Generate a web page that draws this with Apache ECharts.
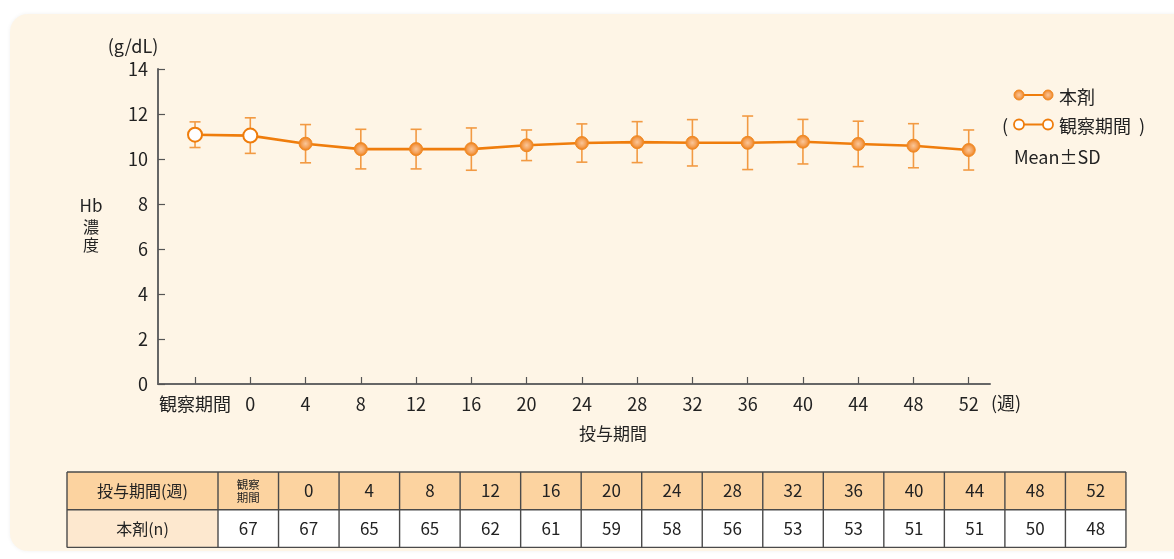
<!DOCTYPE html>
<html lang="ja">
<head>
<meta charset="utf-8">
<title>Hb濃度の推移</title>
<script src="https://cdn.jsdelivr.net/npm/echarts@6/dist/echarts.min.js"></script>
<style>
  html, body { margin: 0; padding: 0; background: #ffffff; }
  #chart { width: 1174px; height: 559px; }
</style>
</head>
<body>
<div id="chart"></div>
<script>
// 投与期間（週）のカテゴリ
const categories = ['観察期間', '0', '4', '8', '12', '16', '20', '24', '28', '32', '36', '40', '44', '48', '52'];
// Hb濃度 平均値 (g/dL)
const meanHb = [11.08, 11.04, 10.68, 10.44, 10.44, 10.44, 10.61, 10.71, 10.75, 10.72, 10.72, 10.77, 10.67, 10.59, 10.40];
// 標準偏差
const sdHb = [0.57, 0.79, 0.85, 0.88, 0.88, 0.94, 0.68, 0.85, 0.91, 1.03, 1.19, 0.99, 1.01, 0.98, 0.89];
// 各時点の症例数
const nPatients = [67, 67, 65, 65, 62, 61, 59, 58, 56, 53, 53, 51, 51, 50, 48];
// 観察期間に該当する点の数（白抜き表示）
const observationPoints = 2;
// 表の見出し
const tableHeadTitle = '投与期間(週)';
const tableRowTitle = '本剤(n)';
const tableHeads = ['観察\n期間', '0', '4', '8', '12', '16', '20', '24', '28', '32', '36', '40', '44', '48', '52'];
// Y軸目盛
const yMin = 0, yMax = 14, yStep = 2;

const ORANGE = '#EF7D0C';
const BAR = '#F29A43';
const FONT = '"Noto Sans CJK JP", "Noto Sans", sans-serif';
const TXT = '#222222';

const chart = echarts.init(document.getElementById('chart'), null, { renderer: 'canvas' });

const fillGradient = {
  type: 'radial', x: 0.5, y: 0.5, r: 0.5,
  colorStops: [
    { offset: 0, color: '#FAC79A' },
    { offset: 0.55, color: '#F4A25A' },
    { offset: 1, color: '#EE7A0A' }
  ]
};

const lineData = meanHb.map((v, i) => {
  const open = i < observationPoints;
  return {
    value: [i, v],
    symbolSize: open ? 14 : 13,
    itemStyle: open
      ? { color: '#ffffff', borderColor: ORANGE, borderWidth: 2 }
      : { color: fillGradient, borderColor: '#F08A25', borderWidth: 1 }
  };
});

const errData = meanHb.map((m, i) => [i, +(m - sdHb[i]).toFixed(2), +(m + sdHb[i]).toFixed(2)]);

// 表（症例数）を図形要素で組み立てる
const tbl = { left: 67, top: 472, firstW: 151, cellW: 60.53, rowH: 37.7 };
const tableGraphics = [];
const tableRight = tbl.left + tbl.firstW + tbl.cellW * tableHeads.length;
tableGraphics.push({ type: 'rect', shape: { x: tbl.left, y: tbl.top, width: tableRight - tbl.left, height: tbl.rowH }, style: { fill: '#FCD3A0' } });
tableGraphics.push({ type: 'rect', shape: { x: tbl.left, y: tbl.top + tbl.rowH, width: tbl.firstW, height: tbl.rowH }, style: { fill: '#FDE8CF' } });
tableGraphics.push({ type: 'rect', shape: { x: tbl.left + tbl.firstW, y: tbl.top + tbl.rowH, width: tableRight - tbl.left - tbl.firstW, height: tbl.rowH }, style: { fill: '#ffffff' } });
// 罫線
const rules = [];
rules.push([tbl.left, tbl.top, tableRight, tbl.top]);
rules.push([tbl.left, tbl.top + tbl.rowH, tableRight, tbl.top + tbl.rowH]);
rules.push([tbl.left, tbl.top + 2 * tbl.rowH, tableRight, tbl.top + 2 * tbl.rowH]);
rules.push([tbl.left, tbl.top, tbl.left, tbl.top + 2 * tbl.rowH]);
for (let i = 0; i <= tableHeads.length; i++) {
  const x = tbl.left + tbl.firstW + i * tbl.cellW;
  rules.push([x, tbl.top, x, tbl.top + 2 * tbl.rowH]);
}
rules.forEach(s => tableGraphics.push({
  type: 'line', shape: { x1: s[0], y1: s[1], x2: s[2], y2: s[3] },
  style: { stroke: '#4a4a4a', lineWidth: 1.4 }
}));
tableGraphics.push({ type: 'text', x: tbl.left + tbl.firstW / 2, y: tbl.top + tbl.rowH / 2,
  style: { text: tableHeadTitle, font: '16px ' + FONT, fill: TXT, align: 'center', verticalAlign: 'middle' } });
tableGraphics.push({ type: 'text', x: tbl.left + tbl.firstW / 2, y: tbl.top + tbl.rowH * 1.5,
  style: { text: tableRowTitle, font: '16px ' + FONT, fill: TXT, align: 'center', verticalAlign: 'middle' } });
tableHeads.forEach((h, i) => {
  const cx = tbl.left + tbl.firstW + (i + 0.5) * tbl.cellW;
  const small = h.indexOf('\n') >= 0;
  tableGraphics.push({ type: 'text', x: cx, y: tbl.top + tbl.rowH / 2,
    style: { text: h, font: (small ? '11.5px ' : '17px ') + FONT, lineHeight: small ? 13 : 18,
      fill: TXT, align: 'center', verticalAlign: 'middle' } });
  tableGraphics.push({ type: 'text', x: cx, y: tbl.top + tbl.rowH * 1.5,
    style: { text: String(nPatients[i]), font: '17px ' + FONT, fill: TXT, align: 'center', verticalAlign: 'middle' } });
});

// 凡例
const legendGraphics = [
  { type: 'line', shape: { x1: 1019, y1: 95, x2: 1048, y2: 95 }, style: { stroke: ORANGE, lineWidth: 2 } },
  { type: 'circle', shape: { cx: 1019, cy: 95, r: 5 }, style: { fill: fillGradient, stroke: '#F08A25', lineWidth: 1 } },
  { type: 'circle', shape: { cx: 1048, cy: 95, r: 5 }, style: { fill: fillGradient, stroke: '#F08A25', lineWidth: 1 } },
  { type: 'text', x: 1059, y: 97, style: { text: '本剤', font: '18px ' + FONT, fill: TXT, verticalAlign: 'middle' } },
  { type: 'text', x: 1005, y: 126, style: { text: '(', font: '18px ' + FONT, fill: TXT, align: 'center', verticalAlign: 'middle' } },
  { type: 'line', shape: { x1: 1019, y1: 124.5, x2: 1048, y2: 124.5 }, style: { stroke: ORANGE, lineWidth: 2 } },
  { type: 'circle', shape: { cx: 1019, cy: 124.5, r: 5 }, style: { fill: '#ffffff', stroke: ORANGE, lineWidth: 1.8 } },
  { type: 'circle', shape: { cx: 1048, cy: 124.5, r: 5 }, style: { fill: '#ffffff', stroke: ORANGE, lineWidth: 1.8 } },
  { type: 'text', x: 1059, y: 126, style: { text: '観察期間', font: '18px ' + FONT, fill: TXT, verticalAlign: 'middle' } },
  { type: 'text', x: 1142, y: 126, style: { text: ')', font: '18px ' + FONT, fill: TXT, align: 'center', verticalAlign: 'middle' } },
  { type: 'text', x: 1014, y: 157, style: { text: 'Mean±SD', font: '18px ' + FONT, fill: TXT, verticalAlign: 'middle' } }
];

// 軸タイトル
const axisTitleGraphics = [
  { type: 'text', x: 133, y: 46, style: { text: '(g/dL)', font: '18px ' + FONT, fill: TXT, align: 'center', verticalAlign: 'middle' } },
  { type: 'text', x: 91, y: 206, style: { text: 'Hb', font: '17px ' + FONT, fill: TXT, align: 'center', verticalAlign: 'middle' } },
  { type: 'text', x: 91, y: 227, style: { text: '濃', font: '16px ' + FONT, fill: TXT, align: 'center', verticalAlign: 'middle' } },
  { type: 'text', x: 91, y: 245, style: { text: '度', font: '16px ' + FONT, fill: TXT, align: 'center', verticalAlign: 'middle' } },
  { type: 'text', x: 613, y: 434, style: { text: '投与期間', font: '17px ' + FONT, fill: TXT, align: 'center', verticalAlign: 'middle' } },
  { type: 'text', x: 991, y: 403, style: { text: '(週)', font: '18px ' + FONT, fill: TXT, verticalAlign: 'middle' } }
];

const option = {
  backgroundColor: '#ffffff',
  animation: false,
  textStyle: { fontFamily: FONT },
  grid: { left: 158, top: 69, right: 184, bottom: 175, containLabel: false },
  xAxis: {
    type: 'value',
    min: -0.67,
    max: 14.385,
    splitLine: { show: false },
    axisLine: { show: true, onZero: false, lineStyle: { color: '#666666', width: 2 } },
    axisTick: { show: true, inside: true, length: 7, customValues: categories.map((c, i) => i),
      lineStyle: { color: '#555555', width: 1.2 } },
    axisLabel: { show: true, customValues: categories.map((c, i) => i), margin: 11,
      formatter: v => categories[Math.round(v)], color: TXT, fontSize: 18, fontFamily: FONT }
  },
  yAxis: {
    type: 'value',
    min: yMin, max: yMax, interval: yStep,
    splitLine: { show: false },
    axisLine: { show: true, onZero: false, lineStyle: { color: '#666666', width: 2 } },
    axisTick: { show: true, inside: true, length: 7, lineStyle: { color: '#555555', width: 1.2 } },
    axisLabel: { color: TXT, fontSize: 18, margin: 10, fontFamily: FONT }
  },
  series: [
    {
      type: 'custom',
      name: 'SD',
      z: 1,
      data: errData,
      encode: { x: 0, y: [1, 2] },
      renderItem: (params, api) => {
        const x = api.value(0);
        const lo = api.coord([x, api.value(1)]);
        const hi = api.coord([x, api.value(2)]);
        const half = 5.5;
        const style = { stroke: BAR, lineWidth: 1.6, fill: null };
        return {
          type: 'group',
          children: [
            { type: 'line', shape: { x1: hi[0], y1: hi[1], x2: lo[0], y2: lo[1] }, style },
            { type: 'line', shape: { x1: hi[0] - half, y1: hi[1], x2: hi[0] + half, y2: hi[1] }, style },
            { type: 'line', shape: { x1: lo[0] - half, y1: lo[1], x2: lo[0] + half, y2: lo[1] }, style }
          ]
        };
      }
    },
    {
      type: 'line',
      name: '本剤',
      z: 3,
      symbol: 'circle',
      data: lineData,
      lineStyle: { color: ORANGE, width: 2.6 },
      itemStyle: { color: ORANGE }
    }
  ],
  graphic: [
    {
      type: 'rect', z: -10, silent: true,
      shape: { x: 10, y: 14, width: 1190, height: 537, r: [18, 0, 0, 18] },
      style: { fill: '#FEF5E6', shadowBlur: 4, shadowColor: 'rgba(0,0,0,0.06)' }
    },
    ...axisTitleGraphics,
    ...legendGraphics,
    ...tableGraphics
  ]
};

chart.setOption(option);
</script>
</body>
</html>
